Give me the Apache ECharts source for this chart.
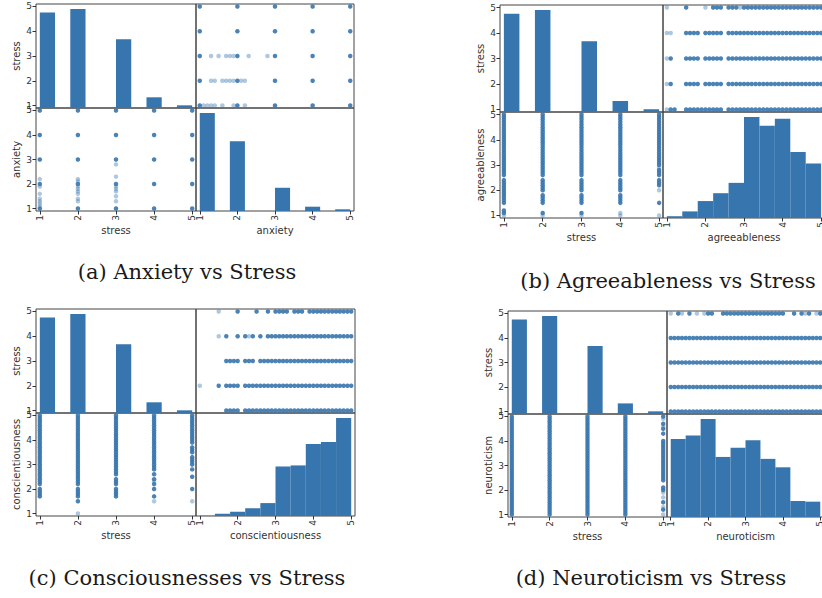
<!DOCTYPE html>
<html>
<head>
<meta charset="utf-8">
<script src="https://cdn.jsdelivr.net/npm/echarts@6/dist/echarts.min.js"></script>
<style>html,body{margin:0;padding:0;background:#fff}#c{width:822px;height:598px}</style>
</head>
<body>
<div id="c"></div>
<script>
// ---------------- data ----------------
const binEdges = [1, 1.4, 1.8, 2.2, 2.6, 3.0, 3.4, 3.8, 4.2, 4.6, 5.0];
const tickValues = [1, 2, 3, 4, 5];
const stressLevels = [1, 2, 3, 4, 5];

// histogram counts (10 bins between 1 and 5)
const stressHist = [963, 0, 1000, 0, 0, 694, 0, 108, 0, 27];
const anxietyHist = [1389, 0, 989, 0, 0, 329, 0, 61, 0, 24];
const agreeHist = [10, 37, 95, 139, 197, 566, 517, 556, 370, 305];
const conscHist = [2, 17, 32, 58, 97, 372, 380, 541, 556, 737];
const neuroHist = [361, 377, 454, 278, 321, 355, 269, 230, 74, 71];

// anxiety values observed at stress = 1..5
const anxietyCommon = [[1, 2, 3, 4, 5], [1, 2, 3, 4, 5], [1, 2, 3, 4, 5], [1, 2, 3, 4, 5], [1, 2, 3, 4, 5]];
const anxietyRare = [
  [1.1, 1.2, 1.3, 1.4, 1.6, 1.9, 2.2],
  [1.3, 1.4, 1.6, 1.7, 1.8, 1.9, 2.1, 2.2],
  [1.3, 1.5, 1.7, 1.8, 1.9, 2.3, 2.8],
  [],
  []
];

// agreeableness values observed at stress = 1..5
const agreeS1 = [1.1, 1.2, 1.5, 1.6, 1.7, 1.8, 1.9, 2, 2.1, 2.2, 2.3, 2.4, 2.6, 2.7, 2.8, 2.9, 3, 3.1, 3.2, 3.3, 3.4, 3.5, 3.6, 3.7, 3.8, 3.9, 4, 4.1, 4.2, 4.3, 4.4, 4.5, 4.6, 4.7, 4.8, 4.9, 5];
const agreeS2 = [1.1, 1.5, 1.6, 1.7, 1.8, 2, 2.1, 2.2, 2.3, 2.4, 2.6, 2.7, 2.8, 2.9, 3, 3.1, 3.2, 3.3, 3.4, 3.5, 3.6, 3.7, 3.8, 3.9, 4, 4.1, 4.2, 4.3, 4.4, 4.5, 4.6, 4.7, 4.8, 4.9, 5];
const agreeS3 = [1.1, 1.5, 1.6, 1.7, 1.8, 2, 2.1, 2.2, 2.3, 2.4, 2.6, 2.7, 2.8, 2.9, 3, 3.1, 3.2, 3.3, 3.4, 3.5, 3.6, 3.7, 3.8, 3.9, 4, 4.1, 4.2, 4.3, 4.4, 4.5, 4.6, 4.7, 4.8, 4.9, 5];
const agreeS4 = [1.5, 1.6, 1.7, 1.8, 2, 2.1, 2.2, 2.3, 2.4, 2.6, 2.7, 2.8, 2.9, 3, 3.1, 3.2, 3.3, 3.4, 3.5, 3.6, 3.7, 3.8, 3.9, 4, 4.1, 4.2, 4.3, 4.4, 4.5, 4.6, 4.7, 4.8, 4.9, 5];
const agreeS5 = [1.5, 2.2, 2.3, 2.4, 2.6, 2.7, 2.8, 3, 3.1, 3.2, 3.3, 3.4, 3.5, 3.6, 3.7, 3.8, 3.9, 4, 4.1, 4.2, 4.3, 4.4, 4.5, 4.6, 4.7, 4.8, 4.9, 5];
const agreeRare = [[1], [1], [1], [1, 1.1], [1, 2, 2.9]];

// conscientiousness values observed at stress = 1..5
const conscS1 = [1.7, 1.8, 1.9, 2, 2.2, 2.3, 2.4, 2.5, 2.6, 2.7, 2.8, 2.9, 3, 3.1, 3.2, 3.3, 3.4, 3.5, 3.6, 3.7, 3.8, 3.9, 4, 4.1, 4.2, 4.3, 4.4, 4.5, 4.6, 4.7, 4.8, 4.9, 5];
const conscS2 = [1.5, 1.7, 1.8, 1.9, 2, 2.2, 2.3, 2.4, 2.5, 2.6, 2.7, 2.8, 2.9, 3, 3.1, 3.2, 3.3, 3.4, 3.5, 3.6, 3.7, 3.8, 3.9, 4, 4.1, 4.2, 4.3, 4.4, 4.5, 4.6, 4.7, 4.8, 4.9, 5];
const conscS3 = [1.7, 1.8, 1.9, 2, 2.2, 2.3, 2.4, 2.6, 2.7, 2.8, 2.9, 3, 3.1, 3.2, 3.3, 3.4, 3.5, 3.6, 3.7, 3.8, 3.9, 4, 4.1, 4.2, 4.3, 4.4, 4.5, 4.6, 4.7, 4.8, 4.9, 5];
const conscS4 = [1.7, 2, 2.2, 2.4, 2.6, 2.8, 2.9, 3, 3.1, 3.2, 3.3, 3.4, 3.5, 3.6, 3.7, 3.8, 3.9, 4, 4.1, 4.2, 4.3, 4.4, 4.5, 4.6, 4.7, 4.8, 4.9, 5];
const conscS5 = [2, 2.5, 2.8, 3, 3.1, 3.2, 3.3, 3.5, 3.6, 3.7, 3.9, 4, 4.1, 4.2, 4.3, 4.4, 4.5, 4.6, 4.7, 4.8, 4.9, 5];
const conscRare = [[], [1], [], [1.5, 2.3], [1.5]];

// neuroticism values observed at stress = 1..5
const neuroS1 = [1, 1.1, 1.2, 1.3, 1.4, 1.5, 1.6, 1.7, 1.8, 1.9, 2, 2.1, 2.2, 2.3, 2.4, 2.5, 2.6, 2.7, 2.8, 2.9, 3, 3.1, 3.2, 3.3, 3.4, 3.5, 3.6, 3.7, 3.8, 3.9, 4, 4.1, 4.2, 4.3, 4.4, 4.5, 4.6, 4.7, 4.8, 4.9, 5];
const neuroS2 = [1, 1.1, 1.2, 1.3, 1.4, 1.5, 1.6, 1.7, 1.8, 1.9, 2, 2.1, 2.2, 2.3, 2.4, 2.5, 2.6, 2.7, 2.8, 2.9, 3, 3.1, 3.2, 3.3, 3.4, 3.5, 3.6, 3.7, 3.8, 3.9, 4, 4.1, 4.2, 4.3, 4.4, 4.5, 4.6, 4.7, 4.8, 4.9, 5];
const neuroS3 = [1, 1.1, 1.2, 1.3, 1.4, 1.5, 1.6, 1.7, 1.8, 1.9, 2, 2.1, 2.2, 2.3, 2.4, 2.5, 2.6, 2.7, 2.8, 2.9, 3, 3.1, 3.2, 3.3, 3.4, 3.5, 3.6, 3.7, 3.8, 3.9, 4, 4.1, 4.2, 4.3, 4.4, 4.5, 4.6, 4.7, 4.8, 4.9, 5];
const neuroS4 = [1, 1.1, 1.2, 1.3, 1.4, 1.5, 1.6, 1.7, 1.8, 1.9, 2, 2.1, 2.2, 2.3, 2.4, 2.5, 2.6, 2.7, 2.8, 2.9, 3, 3.1, 3.2, 3.3, 3.4, 3.5, 3.6, 3.7, 3.8, 3.9, 4, 4.1, 4.2, 4.3, 4.4, 4.5, 4.6, 4.7, 4.8, 4.9, 5];
const neuroS5 = [1.2, 1.5, 2, 2.1, 2.4, 2.5, 2.6, 2.7, 2.8, 2.9, 3, 3.1, 3.2, 3.3, 3.4, 3.5, 3.6, 3.7, 3.8, 3.9, 4, 4.3, 4.5, 4.7, 5];
const neuroRare = [[], [], [], [], [1, 1.3, 1.7, 1.9, 4.6, 4.9]];

const captions = ['(a) Anxiety vs Stress', '(b) Agreeableness vs Stress', '(c) Consciousnesses vs Stress', '(d) Neuroticism vs Stress'];

// ---------------- layout / style ----------------
const barColor = '#3775ae';
const panels = [
  { name: 'anxiety', hist: anxietyHist, common: anxietyCommon, rare: anxietyRare, box: [36, 196, 354, 4, 108, 211], cap: [187, 272] },
  { name: 'agreeableness', hist: agreeHist, common: [agreeS1, agreeS2, agreeS3, agreeS4, agreeS5], rare: agreeRare, box: [500, 663, 825, 5, 112, 218], cap: [668, 281] },
  { name: 'conscientiousness', hist: conscHist, common: [conscS1, conscS2, conscS3, conscS4, conscS5], rare: conscRare, box: [36, 196, 355, 309, 413, 516], cap: [187, 578] },
  { name: 'neuroticism', hist: neuroHist, common: [neuroS1, neuroS2, neuroS3, neuroS4, neuroS5], rare: neuroRare, box: [508, 667, 824, 311, 414, 517], cap: [651, 578] }
];

const labStyle = { fontSize: 9, color: '#333', fontFamily: 'DejaVu Sans' };
const nameStyle = { fontSize: 10, color: '#333', fontFamily: 'DejaVu Sans' };

function valueAxis(g, show, extra) {
  const ax = {
    type: 'value', gridIndex: g, min: 0.9, max: 5.1,
    axisLine: { show: false }, splitLine: { show: false },
    axisTick: { show: show, customValues: tickValues, length: 3.5, lineStyle: { color: '#333', width: 1 } },
    axisLabel: Object.assign({ show: show, customValues: tickValues, margin: 4 }, labStyle)
  };
  if (extra) {
    if (extra.name) {
      ax.name = extra.name; ax.nameLocation = 'middle'; ax.nameGap = extra.nameGap; ax.nameTextStyle = nameStyle;
    }
    if (extra.rotate) ax.axisLabel.rotate = extra.rotate;
  }
  return ax;
}
function histAxis(g, counts) {
  return { type: 'value', gridIndex: g, min: 0, max: Math.max.apply(null, counts) * 1.05, show: false };
}
function histData(counts) {
  return counts.map((c, k) => [binEdges[k], binEdges[k + 1], c]);
}
function histRender(params, api) {
  const a = api.coord([api.value(0), api.value(2)]);
  const b = api.coord([api.value(1), 0]);
  return { type: 'rect', shape: { x: a[0], y: a[1], width: b[0] - a[0], height: b[1] - a[1] }, style: { fill: barColor } };
}
function pairs(byStress, stressOnX) {
  const out = [];
  stressLevels.forEach((s, k) => {
    byStress[k].forEach(v => out.push(stressOnX ? [s, v] : [v, s]));
  });
  return out;
}

const grid = [], xAxis = [], yAxis = [], series = [], graphic = [];
function pushX(o) { xAxis.push(o); return xAxis.length - 1; }
function pushY(o) { yAxis.push(o); return yAxis.length - 1; }

panels.forEach((p, i) => {
  const [x0, xm, x1, y0, ym, y1] = p.box;
  const cells = [[x0, y0, xm, ym], [xm, y0, x1, ym], [x0, ym, xm, y1], [xm, ym, x1, y1]];
  const g0 = grid.length;
  cells.forEach(c => grid.push({
    left: c[0], top: c[1], width: c[2] - c[0], height: c[3] - c[1],
    show: true, borderColor: '#444', borderWidth: 1, backgroundColor: 'transparent',
    containLabel: false, outerBoundsMode: 'none'
  }));
  // top-left: stress histogram
  const xTL = pushX(valueAxis(g0, false));
  pushY(valueAxis(g0, true, { name: 'stress', nameGap: 15 }));
  const yTLh = pushY(histAxis(g0, stressHist));
  series.push({ type: 'custom', xAxisIndex: xTL, yAxisIndex: yTLh, renderItem: histRender, data: histData(stressHist), silent: true });
  // top-right: stress vs variable
  const xTR = pushX(valueAxis(g0 + 1, false));
  const yTR = pushY(valueAxis(g0 + 1, false));
  // bottom-left: variable vs stress
  const xBL = pushX(valueAxis(g0 + 2, true, { name: 'stress', nameGap: 14, rotate: 90 }));
  const yBL = pushY(valueAxis(g0 + 2, true, { name: p.name, nameGap: 15 }));
  // bottom-right: variable histogram
  const xBR = pushX(valueAxis(g0 + 3, true, { name: p.name, nameGap: 14, rotate: 90 }));
  const yBRh = pushY(histAxis(g0 + 3, p.hist));
  series.push({ type: 'custom', xAxisIndex: xBR, yAxisIndex: yBRh, renderItem: histRender, data: histData(p.hist), silent: true });

  const sc = (xi, yi, data, op) => ({
    type: 'scatter', xAxisIndex: xi, yAxisIndex: yi, data: data, symbolSize: 4.5, silent: true,
    itemStyle: { color: barColor, opacity: op }
  });
  series.push(sc(xTR, yTR, pairs(p.rare, false), 0.4));
  series.push(sc(xTR, yTR, pairs(p.common, false), 0.9));
  series.push(sc(xBL, yBL, pairs(p.rare, true), 0.4));
  series.push(sc(xBL, yBL, pairs(p.common, true), 0.9));

  graphic.push({
    type: 'text', x: p.cap[0], y: p.cap[1], silent: true,
    style: { text: captions[i], fill: '#1a1a1a', fontFamily: 'DejaVu Serif', fontSize: 21, align: 'center', verticalAlign: 'middle' }
  });
});

const chart = echarts.init(document.getElementById('c'), null, { renderer: 'svg', width: 822, height: 598 });
chart.setOption({
  animation: false,
  backgroundColor: '#fff',
  textStyle: { fontFamily: 'DejaVu Sans' },
  grid: grid, xAxis: xAxis, yAxis: yAxis, series: series, graphic: graphic
});
</script>
</body>
</html>
